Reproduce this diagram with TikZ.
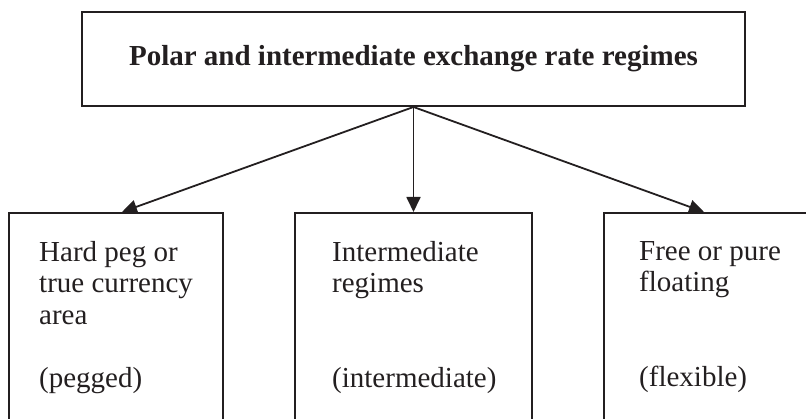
\documentclass[tikz,border=0pt]{standalone}
\usepackage{fontspec}
\setmainfont{Liberation Serif}
\usepackage{xcolor}
\definecolor{ink}{HTML}{231F20}
\usetikzlibrary{arrows.meta,positioning}

\begin{document}
\begin{tikzpicture}[
    x=1pt, y=1pt,
    font=\fontsize{29}{31.5}\selectfont,
    regime/.style={rectangle, draw=ink, line width=2pt, minimum height=227pt, inner sep=0pt},
    header/.style={rectangle, draw=ink, line width=2pt, minimum width=663pt, minimum height=94pt,
        font=\fontsize{29}{36}\selectfont\bfseries, text=ink},
    regtext/.style={inner sep=0pt, align=left, anchor=north west, text=ink},
    arrow/.style={-{Triangle[length=15pt, width=14pt]}, draw=ink, line width=1.8pt}
]
    \useasboundingbox (0,0) rectangle (806,418);
    \clip (0,0) rectangle (806,418);

    % Top
    \node[header] (polar) at (413.5,359) {Polar and intermediate exchange rate regimes};

    % Regimes
    \node[regime, minimum width=214pt] (hard) at (116,91.5) {};
    \node[regime, minimum width=237pt] (inter) at (413.5,91.5) {};
    \node[regime, minimum width=214pt] (free) at (711,91.5) {};

    \node[regtext, below right=29pt and 31pt of hard.north west] (hardtxt)
        {Hard peg or\\true currency\\area\\[31.5pt](pegged)};
    \node[regtext, below right=29pt and 38pt of inter.north west] (intertxt)
        {Intermediate\\regimes\\[63pt](intermediate)};
    \node[regtext, below right=29pt and 36pt of free.north west] (freetxt)
        {Free or pure\\floating\\[63pt](flexible)};

    % Arrows
    \draw[arrow] (polar.south) -- ([xshift=6pt]hard.north);
    \draw[arrow] (polar.south) -- (inter.north);
    \draw[arrow] (polar.south) -- ([xshift=-7pt]free.north);

\end{tikzpicture}
\end{document}
